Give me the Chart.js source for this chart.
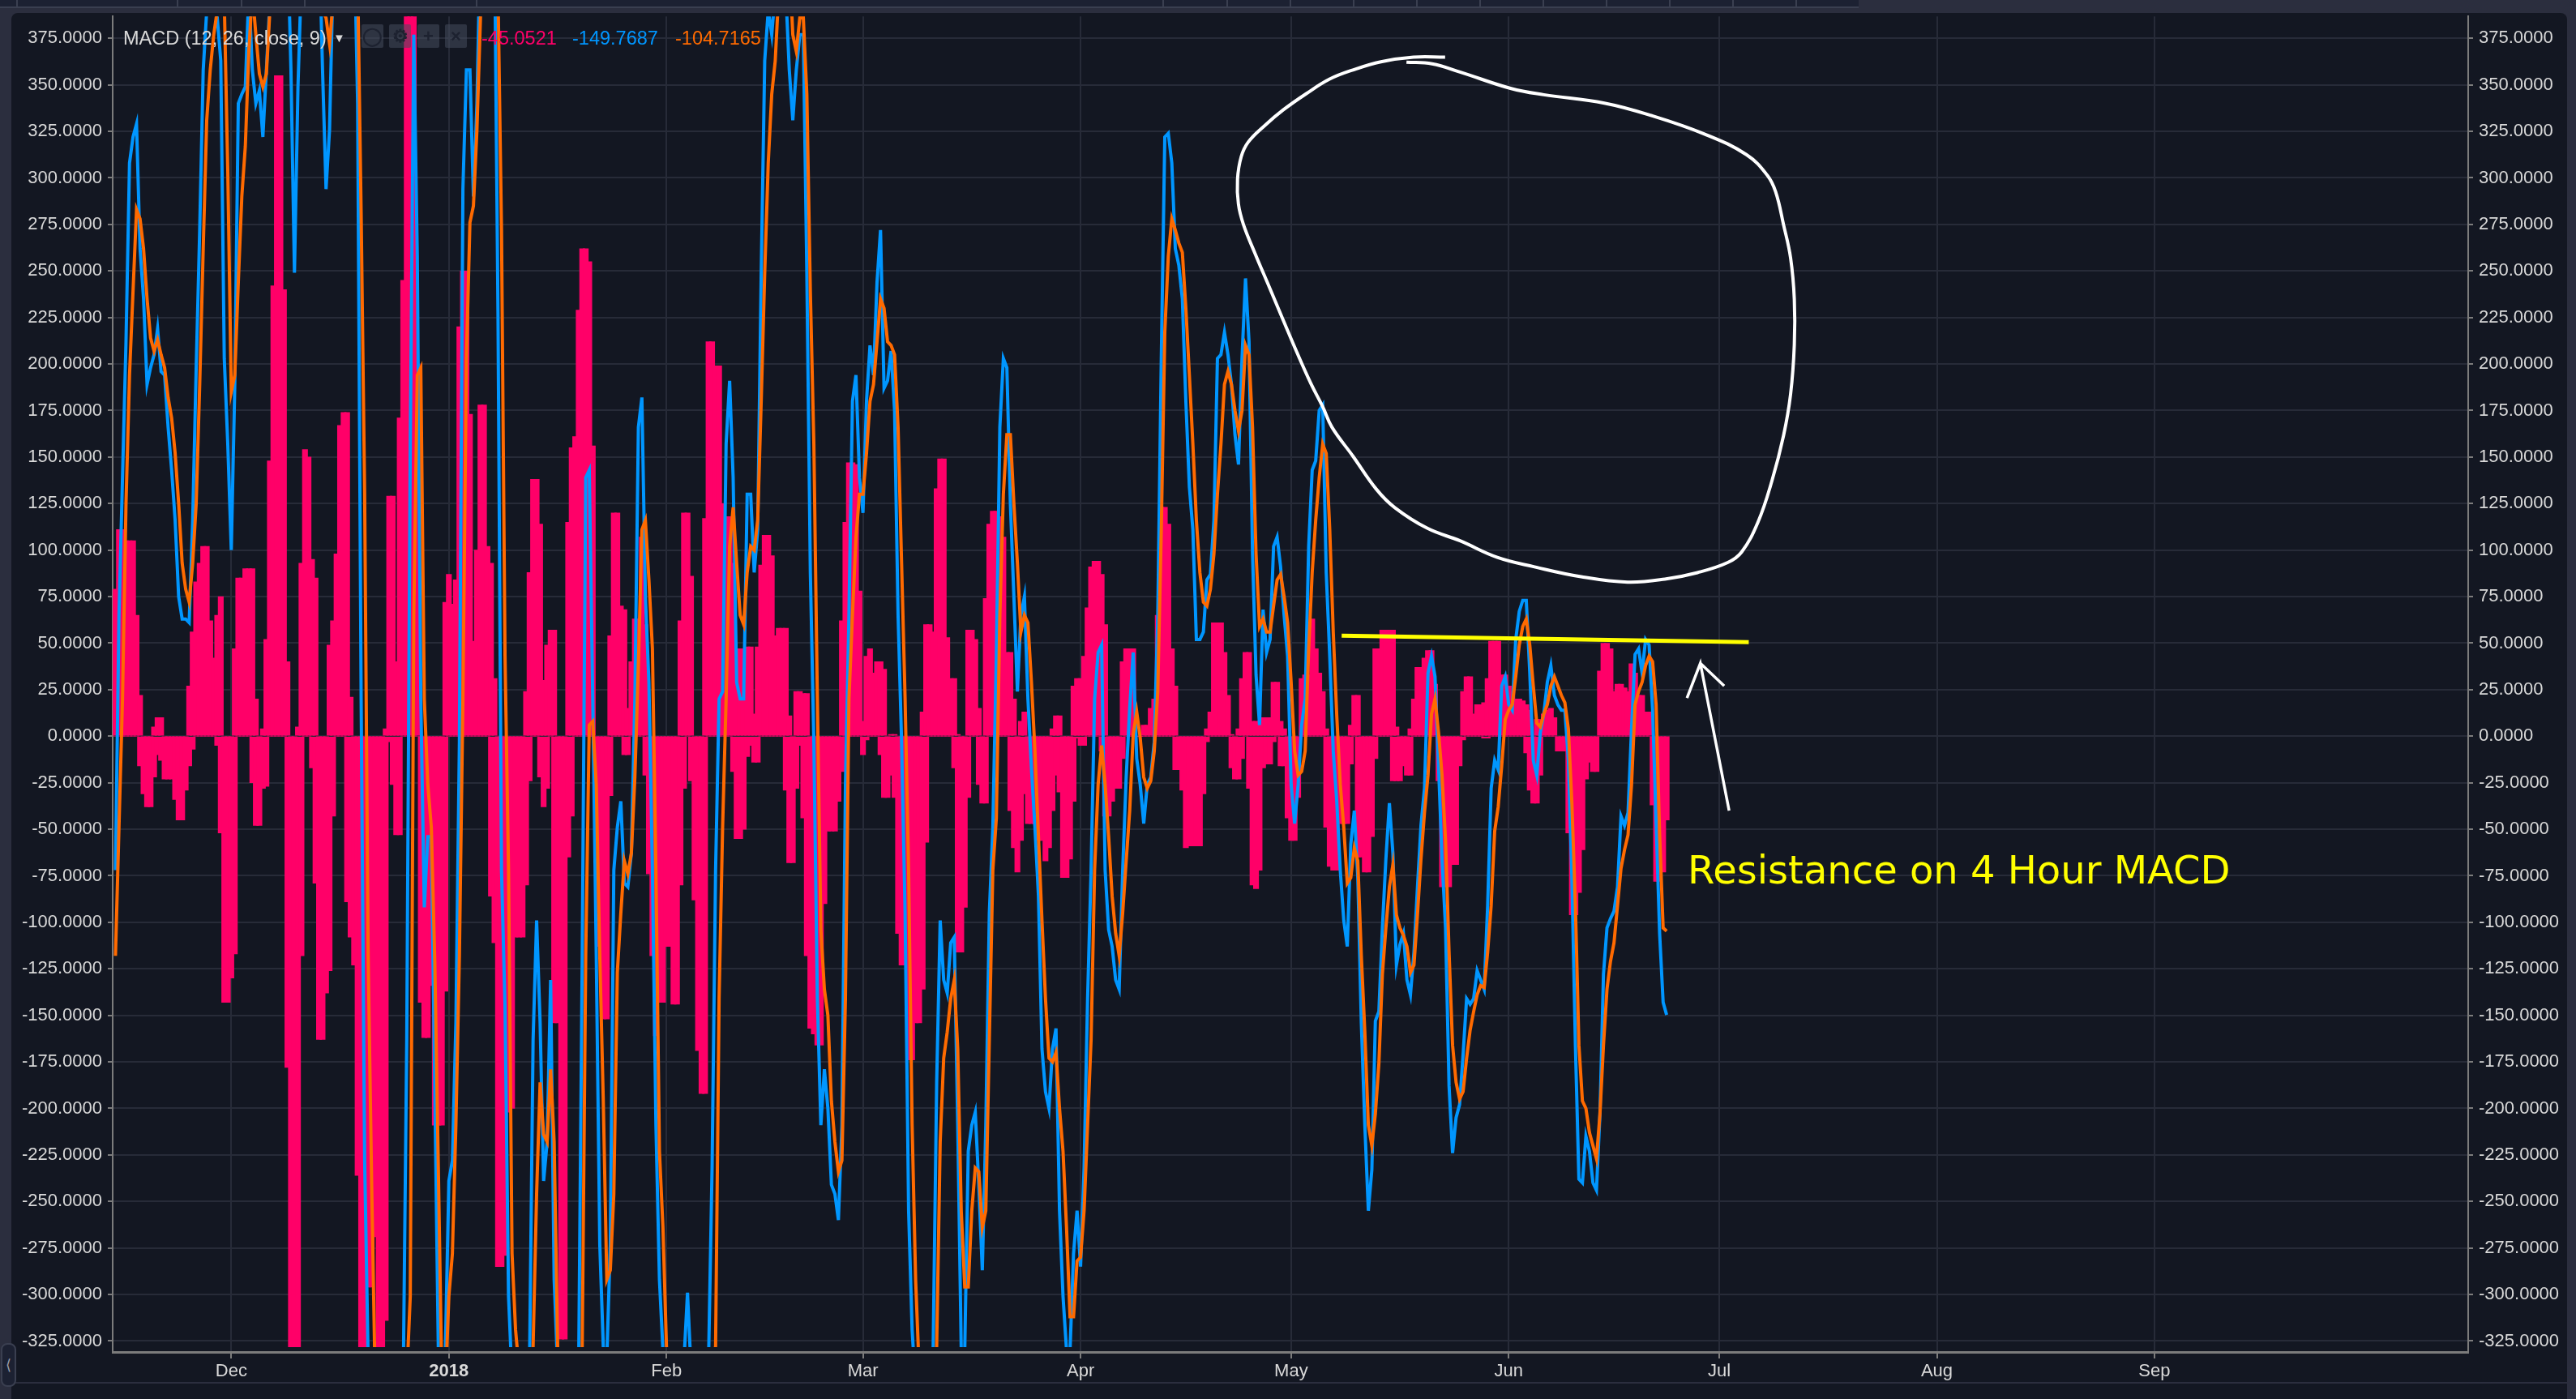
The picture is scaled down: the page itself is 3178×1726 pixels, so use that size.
<!DOCTYPE html>
<html>
<head>
<meta charset="utf-8">
<title>MACD</title>
<script src="https://cdn.jsdelivr.net/npm/chart.js@4/dist/chart.umd.min.js"></script>
<style>
  html, body { margin: 0; padding: 0; background: #2b2e3e; overflow: hidden; }
  #wrap { position: relative; width: 3178px; height: 1726px; }
  #panel { position: absolute; left: 14px; top: 16px; width: 3153px; height: 1710px; background: #131722; border-radius: 8px 8px 0 0; }
  #topbar { position: absolute; left: 0; top: 0; width: 2293px; height: 8px; background: #1c2132; border-bottom: 2px solid #3a3f50; }
  .sep { position: absolute; top: 0; width: 2px; height: 8px; background: #3a3f50; }
  #footer { position: absolute; left: 14px; top: 1705px; width: 3153px; height: 2px; background: #2b2e3e; }
  #collapse { position: absolute; left: 1px; top: 1657px; width: 15px; height: 50px; border: 2px solid #3a3f50; border-radius: 8px; background: #1c2132; color: #9a9ea8; font: 18px "Liberation Sans"; line-height: 50px; text-align: center; }
  canvas { position: absolute; left: 0; top: 0; }
  .txt { position: absolute; font-family: "Liberation Sans", sans-serif; font-size: 23.5px; line-height: 26px; top: 34px; white-space: nowrap; }
  .ico { position: absolute; top: 30px; width: 27px; height: 29px; background: rgba(70,76,92,.55); border-radius: 2px; color: #1d2230; font: bold 22px/29px "Liberation Sans"; text-align: center; }
  #note { position: absolute; left: 2082px; top: 1043px; font-family: "DejaVu Sans", sans-serif; font-size: 48px; line-height: 60px; color: #ffff00; white-space: nowrap; }
</style>
</head>
<body>
<div id="wrap">
  <div id="topbar"></div>
  <div id="panel"></div>
  <div id="footer"></div>
  <div id="collapse">&#10216;</div>
  <canvas id="myChart" width="3178" height="1726"></canvas>
  <div class="txt" style="left:152px;color:#d9d9d9">MACD (12, 26, close, 9)</div>
  <div class="txt" style="left:411px;color:#d9d9d9;font-size:15px">&#9660;</div>
  <div class="ico" style="left:446px">&#9711;</div>
  <div class="ico" style="left:480px">&#9881;</div>
  <div class="ico" style="left:515px">+</div>
  <div class="ico" style="left:549px">&#215;</div>
  <div class="txt" style="left:594px;color:#ff0068">-45.0521</div>
  <div class="txt" style="left:706px;color:#0096ff">-149.7687</div>
  <div class="txt" style="left:833px;color:#ff6a00">-104.7165</div>
  <div id="note">Resistance on 4 Hour MACD</div>
</div>
<script>
// days are counted from 1 Dec 2017, one sample every half day
const firstDay = -16.5;
const monthDays = [0, 31, 62, 90, 121, 151, 182, 212, 243, 274];
const monthLabels = ['Dec', '2018', 'Feb', 'Mar', 'Apr', 'May', 'Jun', 'Jul', 'Aug', 'Sep'];
const topTabs = [20, 218, 297, 375, 587, 1434, 1513, 1591, 1669, 1747, 1825, 1903, 1981, 2059, 2137, 2215];

const histUp = [
  79,111,111,105,105,105,65,22,0,0, 0,5,10,10,0,0,0,0,0,0,
  0,27,56,83,93,102,102,62,42,65, 75,0,0,0,47,85,85,90,90,90,
  20,0,4,52,148,242,355,355,240,40, 0,0,5,93,154,150,95,85,0,0,
  0,49,62,98,167,174,174,21,0,0, 0,0,0,0,0,0,0,4,129,129,
  40,171,245,395,395,395,200,0,0,0,
  0,0,0,0,72,87,71,84,220,250, 250,173,51,100,178,178,102,93,31,0,
  0,0,0,0,0,0,0,24,88,138, 138,114,30,49,57,57,0,0,0,115,
  155,161,229,262,262,255,156,0,0,0, 0,54,120,120,70,68,15,40,63,63,
  107,60,0,0,0,0,0,0,0,0, 0,62,120,120,86,0,0,0,117,212,
  212,199,199,125,118,118,93,47,47,47,
  48,48,12,48,92,108,108,97,54,58, 58,58,11,0,24,24,23,23,0,0,
  0,0,0,0,0,0,0,62,115,147, 147,146,78,8,43,47,34,40,40,36,
  0,1,1,0,0,0,0,0,0,0, 13,60,60,56,133,149,149,53,31,31,
  1,0,0,57,57,52,15,0,74,114, 121,121,118,107,45,45,20,0,8,13,
  0,0,0,0,0,0,0,4,11,11,
  0,0,0,27,31,31,43,69,91,94, 94,87,60,0,0,0,0,40,47,47,
  47,0,0,6,6,15,20,65,123,123, 114,47,27,0,0,0,0,0,0,0,
  0,4,13,61,61,61,45,22,1,0, 4,31,45,45,8,8,8,10,10,10,
  29,29,8,4,0,0,0,0,31,33, 33,63,47,34,24,4,0,0,0,0,
  0,0,6,22,22,0,0,0,
  0,47,47,57,57,57,57,5,0,0, 0,4,20,37,37,42,46,46,28,0,
  0,0,0,0,0,0,24,32,32,12, 17,17,18,31,51,51,51,33,33,27,
  24,20,20,19,17,14,0,9,9,12, 14,15,10,0,0,0,0,0,0,0,
  0,0,0,0,0,35,50,50,47,24, 28,28,26,24,39,34,22,22,13,13,
  0,0,0,0,0
];

const histDown = [
  0,0,0,0,0,0,0,-16,-31,-38, -38,-22,-10,-13,-23,-23,-23,-34,-45,-45,
  -29,-16,-7,0,0,0,0,0,0,-5, -52,-143,-143,-130,-117,0,0,0,0,-25,
  -48,-48,-28,-27,0,0,0,0,0,-178, -335,-335,-335,-118,0,0,-17,-79,-163,-163,
  -138,-126,-43,0,0,0,-89,-108,-123,-236, -335,-335,-296,-296,-269,-335,-335,-314,-3,-26,
  -53,-53,0,0,0,0,0,-143,-162,-162,
  -134,-209,-209,-209,-137,0,0,0,0,0, 0,0,0,0,0,0,0,-86,-111,-285,
  -285,-279,-202,-200,-108,-108,-108,-80,-24,0, 0,-22,-38,-28,0,-154,-154,-324,-324,-65,
  -43,0,0,0,0,0,0,-54,-113,-152, -152,-32,0,0,0,-10,-10,0,0,0,
  0,-21,-74,-118,-161,-143,-143,-113,-113,-144, -144,-80,-28,0,-24,-88,-169,-192,-192,0,
  0,0,0,0,0,0,-19,-55,-55,-50,
  -11,-5,-14,-14,0,0,0,0,0,0, 0,-29,-68,-68,-28,-5,-44,-118,-157,-160,
  -166,-166,-90,-51,-51,-51,-35,-19,0,0, 0,0,0,-10,-2,0,0,0,-10,-33,
  -33,-21,-33,-106,-123,-123,-174,-174,-154,-154, -136,-57,0,0,0,0,0,0,0,-17,
  -116,-116,-92,-33,0,0,-26,-36,-36,0, 0,0,0,0,0,-40,-60,-73,-56,-31,
  -47,-47,-47,-56,-56,-67,-60,-40,-21,-30,
  -76,-76,-66,-35,-1,-5,-5,0,0,0, 0,-8,-43,-43,-35,-28,-28,-12,0,0,
  0,0,0,0,0,0,0,0,0,0, 0,0,-18,-18,-29,-60,-59,-59,-59,-59,
  -31,-3,0,0,0,0,0,0,-17,-23, -23,-12,0,-28,-80,-82,-72,-17,-15,-15,
  -3,0,-16,-16,-44,-56,-56,-33,0,0, 0,0,0,0,0,-49,-70,-72,-72,-47,
  -47,-47,-15,0,-65,-65,-73,-73,
  -54,-12,0,0,0,0,-24,-24,-24,-16, -21,-21,0,0,0,0,0,0,0,-24,
  -81,-81,-81,-69,-69,-16,-2,0,0,0, 0,0,-1,-1,0,0,0,0,0,0,
  0,0,0,0,-9,-29,-36,-36,-21,0, 0,0,0,-8,-8,-8,-52,-96,-96,-84,
  -61,-23,-14,-19,-19,0,0,0,0,0, 0,0,0,0,0,0,0,0,0,0,
  -37,-78,-78,-73,-45
];

const macdLine = [
  -72,65,139,212,308,322,329,262,235,189, 198,205,219,196,194,166,143,116,75,63,
  63,61,116,198,272,358,390,395,405,386, 363,203,157,100,189,340,345,349,400,358,
  340,347,322,358,395,415,432,441,445,432, 358,249,349,409,432,432,432,432,432,358,
  294,326,409,432,432,432,432,432,432,340, 20,-228,-335,-345,-360,-370,-370,-370,-370,-360,
  -360,-355,-345,-163,157,377,258,20,-92,-54,
  -54,-191,-330,-345,-330,-239,-228,-154,-3,294, 358,358,290,340,432,445,455,455,432,226,
  -72,-145,-301,-345,-355,-360,-360,-350,-335,-163, -99,-154,-239,-218,-131,-292,-340,-350,-350,-345,
  -340,-335,-335,-118,139,143,20,-118,-273,-328, -335,-273,-72,-49,-35,-79,-81,-63,20,166,
  182,75,29,-72,-209,-292,-330,-345,-350,-350, -345,-340,-335,-299,-340,-350,-355,-355,-350,-335,
  -232,-72,20,24,157,191,139,29,20,20,
  130,130,88,111,249,363,390,377,400,414, 414,400,358,331,358,377,377,249,88,-3,
  -141,-209,-179,-200,-241,-246,-260,-209,-26,65, 180,194,139,120,180,210,194,244,272,187,
  191,207,175,65,-3,-95,-255,-319,-350,-355, -355,-350,-345,-328,-186,-99,-131,-138,-111,-108,
  -209,-330,-330,-223,-209,-202,-241,-287,-209,-95, -49,43,166,203,198,125,75,24,65,75,
  20,-17,-49,-86,-168,-191,-200,-168,-157,-255,
  -301,-330,-330,-278,-255,-285,-232,-141,-72,20, 45,49,-72,-104,-113,-131,-136,-72,-22,15,
  45,-12,-26,-47,-26,-22,-3,65,203,322, 324,308,262,253,235,180,134,111,52,52,
  56,84,87,116,203,205,217,205,189,162, 146,203,246,212,98,33,6,68,45,52,
  102,107,91,65,43,-26,-47,-26,6,20, 102,143,148,175,178,88,43,-8,-35,-72,
  -99,-113,-58,-40,-76,-154,-209,-255,
  -233,-153,-148,-103,-66,-36,-63,-123,-112,-106, -131,-139,-116,-81,-48,-28,34,43,32,-16,
  -66,-103,-188,-224,-205,-198,-171,-141,-144,-141, -126,-131,-136,-91,-28,-13,-18,27,32,17,
  14,52,67,73,73,34,-13,-21,2,12, 29,38,22,17,14,14,-13,-76,-166,-238,
  -240,-215,-223,-240,-244,-203,-128,-103,-98,-94, -81,-43,-48,-41,4,44,47,34,52,49,
  14,-46,-106,-143,-149.7687
];

const signalLine = [
  -118,-49,20,125,194,239,283,278,262,235, 214,207,213,205,198,182,171,152,125,93,
  79,72,93,125,189,262,331,358,377,390, 400,395,304,185,194,244,290,317,368,400,
  377,356,349,356,390,413,432,441,441,432, 423,413,409,409,407,407,405,405,400,390,
  386,372,395,423,432,454,454,432,423,409, 281,130,-118,-241,-347,-365,-370,-370,-370,-370,
  -365,-360,-355,-345,-301,65,194,198,20,-26,
  -49,-122,-232,-347,-350,-301,-278,-209,-118,20, 203,276,285,326,386,432,441,441,432,400,
  272,43,-72,-278,-319,-340,-350,-355,-350,-328, -246,-186,-214,-218,-179,-218,-328,-345,-350,-350,
  -345,-335,-335,-328,-118,6,8,-26,-118,-196, -292,-287,-246,-127,-95,-67,-74,-63,-22,38,
  111,116,84,47,-72,-223,-264,-328,-340,-345, -350,-355,-355,-355,-350,-350,-350,-350,-345,-340,
  -335,-328,-141,-49,20,102,123,93,65,60,
  88,102,100,116,180,249,308,345,363,400, 414,423,418,377,368,386,386,345,239,157,
  20,-104,-136,-150,-196,-218,-234,-228,-141,20, 65,107,130,130,152,180,189,212,235,230,
  212,210,205,166,93,20,-72,-209,-292,-340, -350,-350,-345,-340,-328,-218,-173,-159,-141,-131,
  -168,-255,-296,-296,-255,-232,-234,-264,-255,-163, -72,-44,65,130,162,162,125,93,56,65,
  61,29,-8,-54,-99,-141,-173,-175,-170,-200,
  -223,-264,-312,-312,-282,-280,-255,-209,-163,-72, -26,-5,-26,-54,-86,-106,-118,-95,-67,-40,
  1,13,-1,-22,-28,-24,-8,24,111,217, 258,278,272,265,260,230,194,157,116,88,
  72,70,79,98,130,157,189,196,189,175, 164,175,210,205,166,98,59,63,56,56,
  70,84,87,75,61,29,-8,-21,-19,-8, 47,88,116,139,157,152,111,56,11,-26,
  -49,-79,-76,-60,-67,-118,-159,-209,
  -220,-203,-176,-128,-103,-81,-69,-96,-103,-107, -113,-127,-123,-96,-66,-41,-21,12,20,2,
  -21,-56,-116,-166,-186,-195,-191,-173,-158,-148, -139,-134,-135,-116,-91,-51,-38,-16,9,14,
  17,32,49,59,63,49,27,7,5,12, 17,27,32,27,22,18,4,-36,-91,-166,
  -196,-200,-213,-220,-227,-203,-166,-136,-121,-111, -91,-71,-61,-53,-26,17,24,29,38,43,
  40,17,-53,-103,-104.7165
];

// hand drawn notes on the chart, as day / value pairs
const circleDays = [172.94,168.43,163.79,159.8,156.49,153.17,149.86,147.2,144.88,143.89,143.36,143.49,144.22,145.88,147.87,149.86,151.85,153.84,155.49,156.82,159.8,163.12,165.78,170.42,175.06,180.37,185.67,192.31,198.94,204.25,208.89,213.2,215.19,217.51,219.5,221.16,222.16,222.69,222.69,222.16,221.16,220.03,218.84,215.86,209.88,202.26,195.62,187,182.36,175.06,171.08,167.43];
const circleVals = [364.9,364.9,362.4,358,353.1,345.3,336.5,328,319.2,311.4,299.2,285.9,274.8,259.2,241.5,223.7,206,189.3,177.1,166,150.5,132.8,122.8,111.7,105,96.1,91,85.7,82.8,84.4,87.9,93.3,99,115,137.2,161.6,183.8,210.4,234.8,257,274.8,292.5,301.4,312.5,323.6,333.6,340.2,344.7,348,356.9,361.3,362.2];
const resistanceDays = [158.2, 216.2];
const resistanceVals = [54, 50.5];
const arrowDays = [213.4, 209.3, 207.4, 209.3, 212.7];
const arrowVals = [-40, 39.2, 20.5, 39.2, 27];

const gridColor = '#272b38';
const axisColor = '#7c7c7c';
const labelColor = '#d9d9d9';

topTabs.forEach(x => {
    const s = document.createElement('div');
    s.className = 'sep';
    s.style.left = x + 'px';
    document.getElementById('topbar').appendChild(s);
});

function toPoints(days, vals) {
    return vals.map((v, i) => ({ x: days[i], y: v }));
}

const sampleDays = histUp.map((v, i) => firstDay + i * 0.5);
const clipBottom = { left: 0, top: 0, right: 0, bottom: -6 };

function histDataset(values) {
    return {
        type: 'bar',
        data: toPoints(sampleDays, values),
        backgroundColor: '#ff0068',
        barThickness: 6.5,
        grouped: false,
        clip: clipBottom,
        order: 5
    };
}

function lineDataset(points, color, width, order, tension) {
    return {
        type: 'line',
        data: points,
        borderColor: color,
        borderWidth: width,
        pointRadius: 0,
        tension: tension || 0,
        fill: false,
        clip: clipBottom,
        order: order
    };
}

function monthTicks(scale) {
    scale.ticks = monthDays.map(d => ({ value: d }));
}

function yAxis(position, width) {
    return {
        type: 'linear',
        position: position,
        min: -330.9,
        max: 386.8,
        afterFit: s => { s.width = width; },
        border: { color: axisColor, width: 2 },
        grid: { color: gridColor, lineWidth: 2, tickColor: axisColor, tickLength: 6, drawOnChartArea: position === 'left' },
        ticks: {
            stepSize: 25,
            includeBounds: false,
            autoSkip: false,
            maxRotation: 0,
            padding: 7,
            color: labelColor,
            font: { family: 'Liberation Sans', size: 22 },
            callback: v => v.toFixed(4)
        }
    };
}

new Chart(document.getElementById('myChart').getContext('2d'), {
    data: {
        datasets: [
            histDataset(histUp),
            histDataset(histDown),
            lineDataset(toPoints(sampleDays, macdLine), '#0096ff', 4, 4),
            lineDataset(toPoints(sampleDays, signalLine), '#ff6a00', 4, 3),
            lineDataset(toPoints(resistanceDays, resistanceVals), '#ffff00', 5, 2),
            lineDataset(toPoints(circleDays, circleVals), '#ffffff', 4, 1, 0.4),
            lineDataset(toPoints(arrowDays, arrowVals), '#ffffff', 3.5, 1)
        ]
    },
    options: {
        responsive: false,
        animation: false,
        devicePixelRatio: 1,
        events: [],
        layout: { autoPadding: false, padding: 0 },
        plugins: { legend: { display: false }, tooltip: { enabled: false } },
        scales: {
            x: {
                type: 'linear',
                min: -16.9,
                max: 318.7,
                offset: false,
                afterBuildTicks: monthTicks,
                afterFit: s => { s.height = 58; },
                border: { color: axisColor, width: 3 },
                grid: { color: gridColor, lineWidth: 2, tickColor: axisColor, tickLength: 8, offset: false },
                ticks: {
                    autoSkip: false,
                    maxRotation: 0,
                    padding: 3,
                    color: labelColor,
                    font: c => ({ family: 'Liberation Sans', size: 22, weight: c.tick && c.tick.value === 31 ? 'bold' : 'normal' }),
                    callback: v => monthLabels[monthDays.indexOf(v)]
                }
            },
            y: yAxis('left', 139),
            y2: yAxis('right', 133)
        }
    }
});
</script>
</body>
</html>
